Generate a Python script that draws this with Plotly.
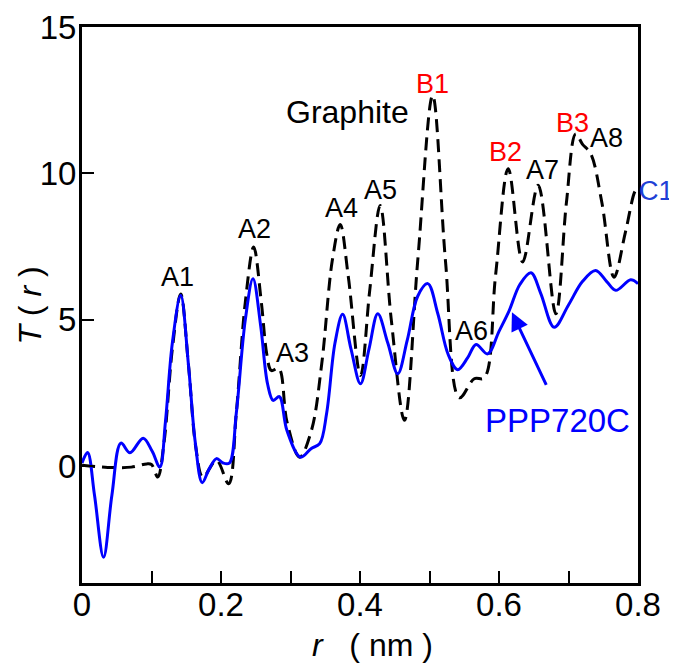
import plotly.graph_objects as go

# PPP720C (blue solid)
ppp_r = [0.000, 0.008, 0.018, 0.031, 0.043, 0.056, 0.069, 0.088, 0.101, 0.112,
         0.120, 0.130, 0.142, 0.153, 0.163, 0.173, 0.183, 0.1935, 0.203, 0.212,
         0.222, 0.235, 0.246, 0.257, 0.267, 0.275, 0.284, 0.295, 0.3145, 0.330,
         0.342, 0.352, 0.364, 0.375, 0.387, 0.4007, 0.413, 0.4256, 0.440, 0.4543,
         0.468, 0.483, 0.4975, 0.512, 0.527, 0.5405, 0.555, 0.567, 0.5836, 0.600,
         0.6147, 0.630, 0.646, 0.660, 0.6794, 0.700, 0.720, 0.739, 0.755, 0.768,
         0.7895, 0.800]
ppp_T = [0.10, 0.46, -1.0, -3.12, -1.0, 0.78, 0.45, 0.95, 0.5, -0.04,
         1.5, 4.2, 5.83, 3.5, 0.8, -0.57, -0.1, 0.25, 0.1, 0.1,
         1.8, 5.0, 6.4, 4.8, 2.8, 2.24, 2.37, 1.2, 0.3, 0.6,
         0.76, 1.8, 4.2, 5.18, 4.0, 2.81, 4.0, 5.2, 4.2, 3.15,
         4.3, 5.8, 6.23, 5.2, 3.8, 3.29, 3.7, 4.15, 3.83, 4.6,
         5.31, 6.2, 6.6, 5.9, 4.74, 5.5, 6.3, 6.68, 6.3, 6.0,
         6.36, 6.23]

# Graphite (black dashed)
gra_r = [0.000, 0.037, 0.071, 0.093, 0.100, 0.109, 0.118, 0.130, 0.142, 0.153,
         0.164, 0.174, 0.1935, 0.211, 0.222, 0.235, 0.247, 0.258, 0.266, 0.2724,
         0.283, 0.295, 0.313, 0.330, 0.345, 0.360, 0.3715, 0.383, 0.4007, 0.414,
         0.429, 0.445, 0.4639, 0.483, 0.5045, 0.523, 0.543, 0.5644, 0.5788, 0.595,
         0.6133, 0.634, 0.6563, 0.6817, 0.697, 0.7104, 0.720, 0.732, 0.748, 0.7655,
         0.782, 0.7966, 0.800]
gra_T = [0.02, -0.05, -0.04, 0.07, 0.05, -0.38, 0.8, 4.0, 5.88, 3.5,
         0.6, -0.38, 0.19, -0.61, 1.8, 5.6, 7.48, 5.6, 3.8, 3.26,
         3.34, 1.5, 0.3, 1.2, 3.5, 7.0, 8.25, 6.5, 3.09, 6.0,
         8.9, 5.0, 1.56, 7.0, 12.66, 7.0, 2.33, 2.98, 3.01, 6.5,
         10.16, 6.97, 9.59, 5.2, 9.0, 11.35, 11.0, 10.67, 9.0, 6.45,
         8.0, 9.42, 9.45]

# Peak labels
lab_text = ["A1", "A2", "A3", "A4", "A5", "B1", "A6", "B2", "A7", "B3", "A8", "C1"]
lab_r = [0.138, 0.248, 0.303, 0.373, 0.429, 0.504, 0.560, 0.609, 0.662, 0.706, 0.754, 0.826]
lab_T = [6.45, 8.1, 3.85, 8.8, 9.43, 13.06, 4.6, 10.74, 10.1, 11.71, 11.21, 9.4]
lab_color = ["black", "black", "black", "black", "black", "red", "black", "red",
             "black", "red", "black", "#1f3fd6"]

FONT = "Liberation Sans, Arial, Helvetica, sans-serif"
X_MAX = 0.8

fig = go.Figure()
fig.add_trace(go.Scatter(x=gra_r, y=gra_T, mode="lines",
                         line=dict(color="black", width=3, dash="13px,7px", shape="spline", smoothing=1.0),
                         showlegend=False))
fig.add_trace(go.Scatter(x=ppp_r, y=ppp_T, mode="lines",
                         line=dict(color="#0000ff", width=3, shape="spline", smoothing=1.0),
                         showlegend=False))

for t, x, y, c in zip(lab_text, lab_r, lab_T, lab_color):
    if x > X_MAX:
        # outside axis range -> position in paper units so it stays visible
        fig.add_annotation(x=x / X_MAX, xref="paper", y=y, yref="y", text=t, showarrow=False,
                           xanchor="center", yanchor="middle",
                           font=dict(family=FONT, size=27, color=c))
    else:
        fig.add_annotation(x=x, y=y, text=t, showarrow=False,
                           font=dict(family=FONT, size=27, color=c))

fig.add_annotation(x=0.382, y=12.08, text="Graphite", showarrow=False,
                   font=dict(family=FONT, size=32, color="black"))
fig.add_annotation(x=0.684, y=1.55, text="PPP720C", showarrow=False,
                   font=dict(family=FONT, size=33, color="#0000ff"))
# arrow
fig.add_annotation(x=0.6186, y=5.25, ax=0.669, ay=2.72, xref="x", yref="y",
                   axref="x", ayref="y", text="", showarrow=True,
                   arrowhead=2, arrowsize=1.2, arrowwidth=3, arrowcolor="#0000ff")

# axis titles as annotations
fig.add_annotation(x=0.5216, y=-0.111, xref="paper", yref="paper",
                   text="<i>r</i>\u00a0\u00a0\u00a0(\u00a0nm\u00a0)", showarrow=False,
                   xanchor="center", yanchor="middle",
                   font=dict(family=FONT, size=32, color="black"))
fig.add_annotation(x=-0.0935, y=0.499, xref="paper", yref="paper",
                   text="<i>T</i>\u00a0(\u00a0<i>r</i>\u00a0)", showarrow=False, textangle=-90,
                   xanchor="center", yanchor="middle",
                   font=dict(family=FONT, size=32, color="black"))

fig.update_layout(
    width=669, height=655,
    margin=dict(l=74, r=39, t=19, b=80, autoexpand=False),
    plot_bgcolor="white", paper_bgcolor="white",
    font=dict(family=FONT, size=30, color="black"),
)
fig.update_xaxes(range=[0, X_MAX], tickvals=[0, 0.1, 0.2, 0.3, 0.4, 0.5, 0.6, 0.7, 0.8],
                 ticktext=["0", "", "0.2", "", "0.4", "", "0.6", "", "0.8"],
                 ticks="inside", ticklen=12, tickwidth=2, tickcolor="black",
                 showline=True, linewidth=3, linecolor="black", mirror=True,
                 showgrid=False, zeroline=False, automargin=False,
                 ticklabelstandoff=-10,
                 tickfont=dict(size=33))
fig.update_yaxes(range=[-4, 15], tickvals=[0, 5, 10, 15],
                 ticks="inside", ticklen=12, tickwidth=2, tickcolor="black",
                 showline=True, linewidth=3, linecolor="black", mirror=True,
                 showgrid=False, zeroline=False, automargin=False,
                 ticklabelstandoff=-4,
                 tickfont=dict(size=33))

fig.write_html("out.html")
